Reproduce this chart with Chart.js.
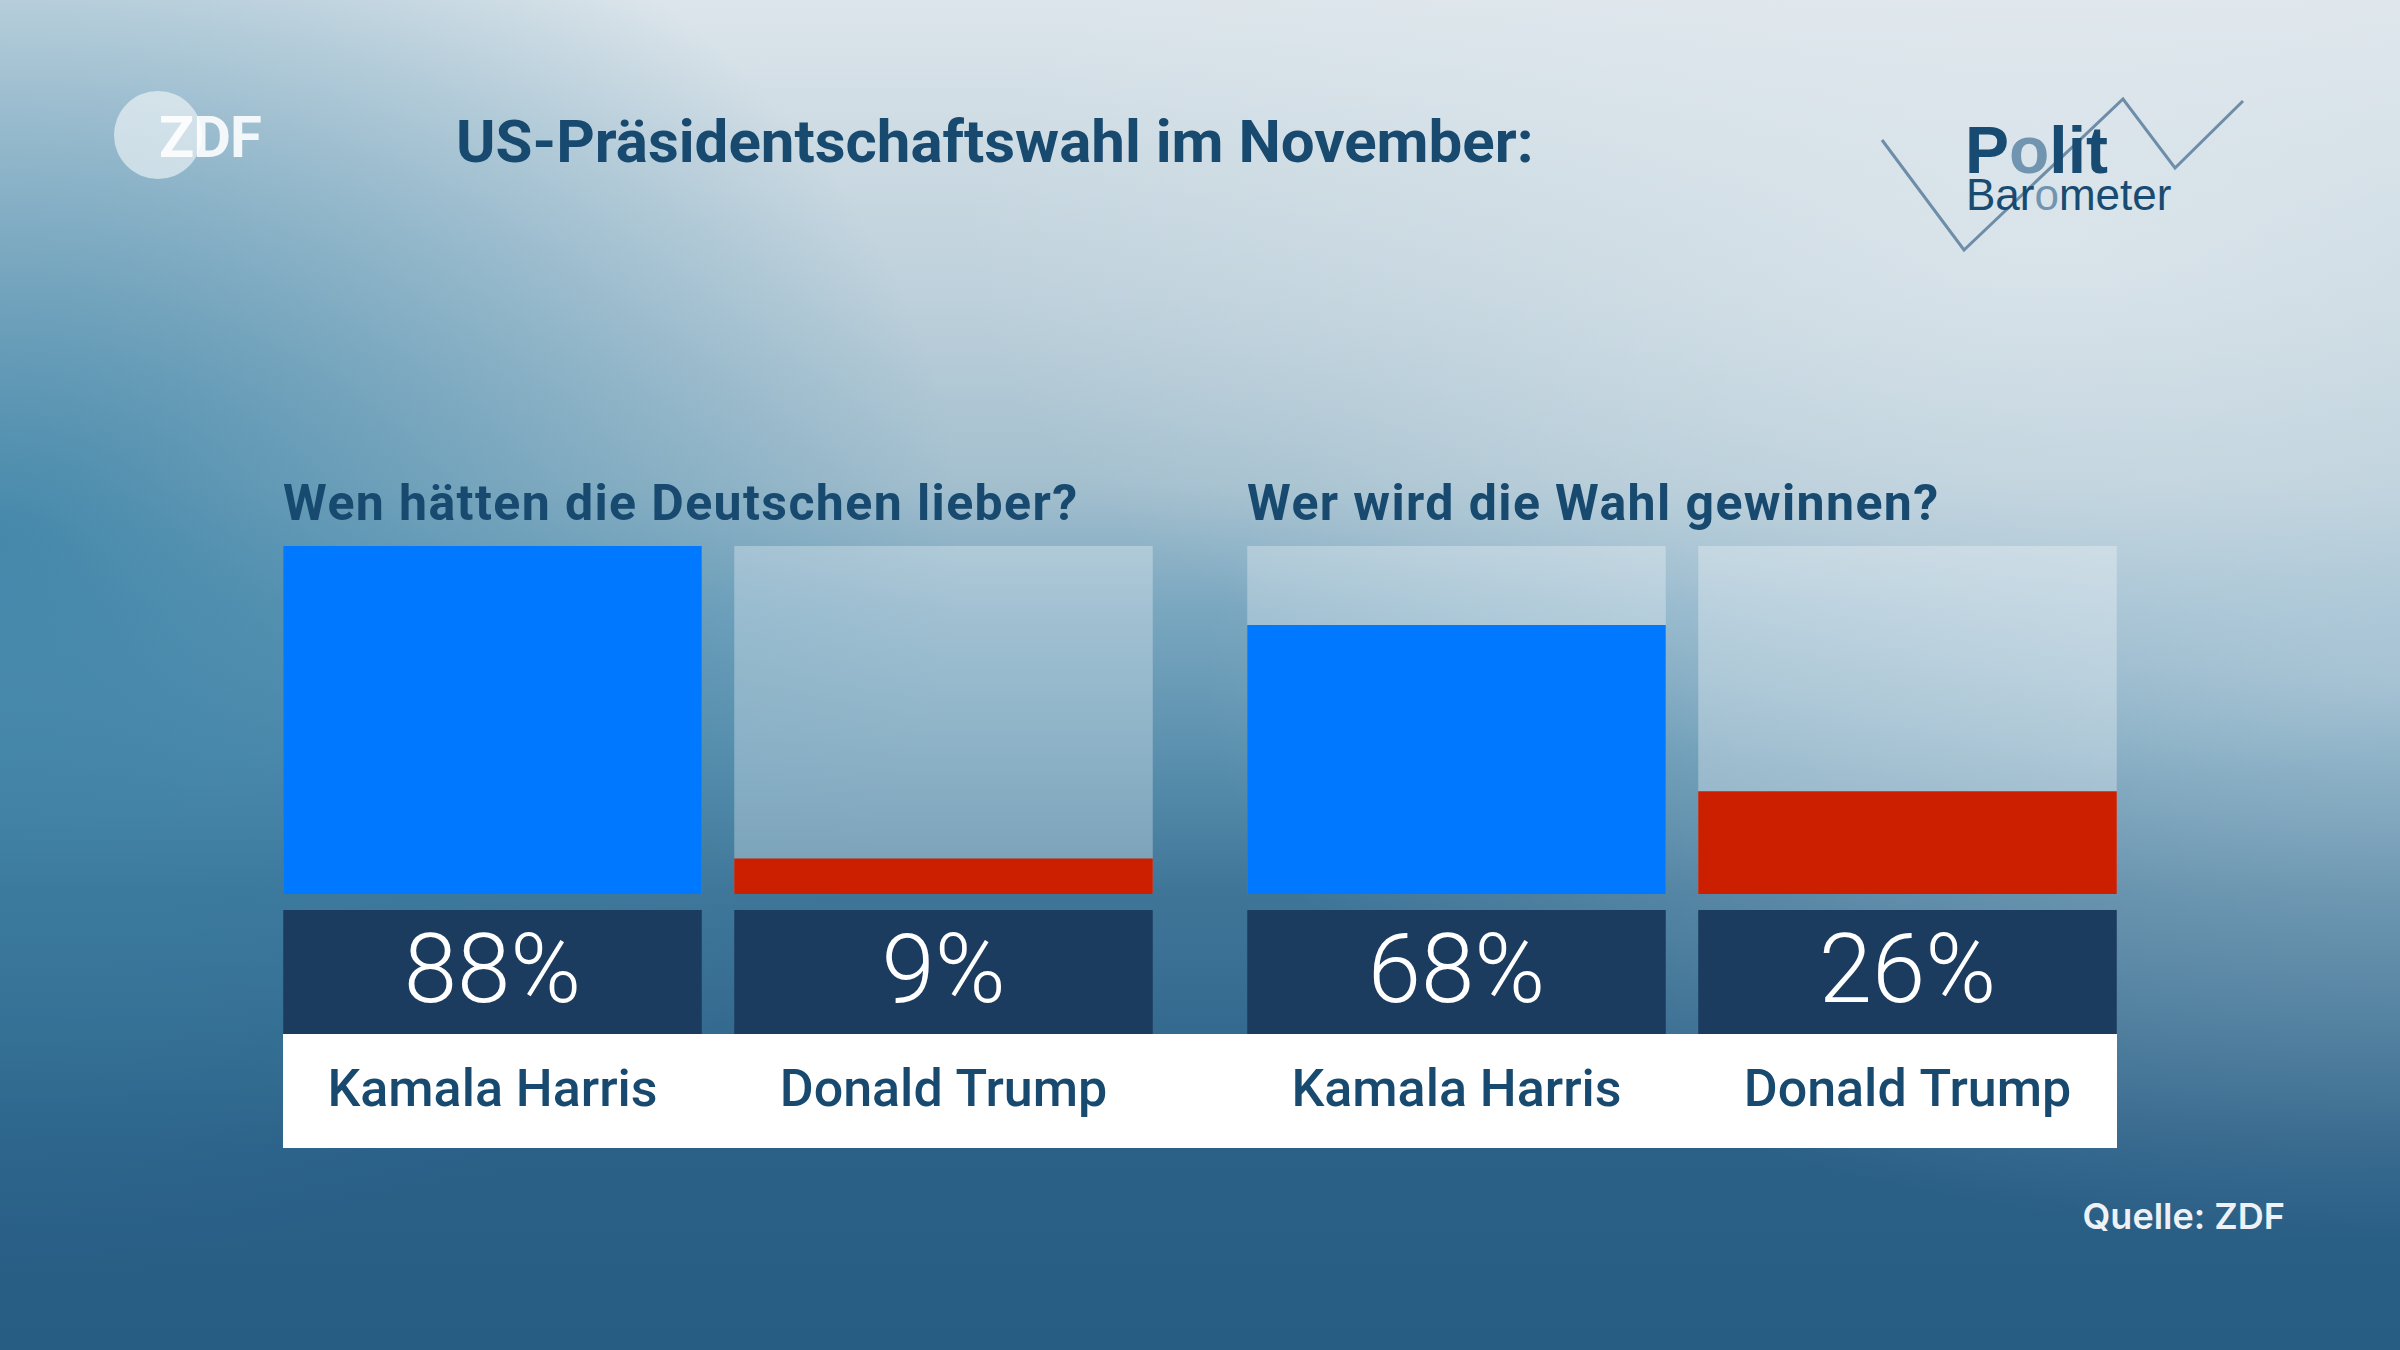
<!DOCTYPE html>
<html>
<head>
<meta charset="utf-8">
<script src="https://cdn.jsdelivr.net/npm/chart.js@4/dist/chart.umd.min.js"></script>
<style>
  html, body { margin: 0; padding: 0; }
  body {
    width: 2400px; height: 1350px; position: relative; overflow: hidden;
    background:
      radial-gradient(ellipse 45% 40% at 85% 18%, rgba(232,238,242,0.6) 0%, rgba(232,238,242,0) 100%),
      radial-gradient(ellipse 40% 55% at 0% 40%, rgba(55,128,165,0.85) 0%, rgba(55,128,165,0.5) 40%, rgba(55,128,165,0) 100%),
      radial-gradient(ellipse 50% 42% at 100% 50%, rgba(215,227,235,0.5) 0%, rgba(215,227,235,0) 100%),
      linear-gradient(to bottom, #dce5eb 0%, #bdd0db 22%, #a3bfce 36%, #7aa7c0 45%, #5a90ae 56%, #3f7698 66%, #2b6087 85%, #275c83 100%);
    font-family: Roboto, "Liberation Sans", sans-serif;
  }
  .txt { position: absolute; line-height: 1; white-space: nowrap; }
  #title { left: 456px; top: 112px; font-size: 60px; font-weight: 700; color: #184a70; }
  .question { top: 478px; font-size: 50px; font-weight: 700; color: #184a70; letter-spacing: 1.4px; }
  #q1 { left: 283px; }
  #q2 { left: 1247px; }
  #source { right: 115px; top: 1198px; font-family: Inter, "Open Sans", sans-serif; font-size: 36px; font-weight: 600; color: #eef2f7; }
  #zdfCircle { position: absolute; left: 114px; top: 91px; width: 88px; height: 88px; border-radius: 50%; background: rgba(255,255,255,0.55); }
  #zdfText { left: 159px; top: 108px; font-size: 58px; font-weight: 700; color: rgba(255,255,255,0.88); letter-spacing: -1px; }
  #zigzag { position: absolute; left: 0; top: 0; }
  #polit { left: 1965px; top: 117px; font-family: "Liberation Sans", Arial, sans-serif; font-size: 66px; font-weight: 700; color: #174b72; }
  #barometer { left: 1966px; top: 173px; font-family: "Liberation Sans", Arial, sans-serif; font-size: 44px; color: #174b72; }
  .light { color: #7194b0; }
  #whiteStrip { position: absolute; left: 283px; top: 1034px; width: 1834px; height: 114px; background: #ffffff; }
  canvas { position: absolute; }
  #chart1 { left: 267px; top: 546px; }
  #chart2 { left: 1231px; top: 546px; }
</style>
</head>
<body>
<div id="zdfCircle"></div>
<div class="txt" id="zdfText">ZDF</div>
<svg id="zigzag" width="2400" height="300">
  <polyline points="1882,140 1964,250 2123,99 2175,168 2243,101" fill="none" stroke="#6d8da8" stroke-width="3"/>
</svg>
<div class="txt" id="polit">P<span class="light">o</span>lit</div>
<div class="txt" id="barometer">Bar<span class="light">o</span>meter</div>
<div class="txt" id="title">US-Präsidentschaftswahl im November:</div>
<div class="txt question" id="q1"></div>
<div class="txt question" id="q2"></div>
<div id="whiteStrip"></div>
<canvas id="chart1" width="902" height="604"></canvas>
<canvas id="chart2" width="902" height="604"></canvas>
<div class="txt" id="source">Quelle: ZDF</div>

<script>
// Daten
const candidates = ['Kamala Harris', 'Donald Trump'];
const questions = ['Wen hätten die Deutschen lieber?', 'Wer wird die Wahl gewinnen?'];
const preferred = [88, 9];        // Wen hätten die Deutschen lieber?
const expectedWinner = [68, 26];  // Wer wird die Wahl gewinnen?
const candidateColors = ['#0078ff', '#cc1f00'];
const scaleMax = 88;

document.getElementById('q1').innerText = questions[0];
document.getElementById('q2').innerText = questions[1];

// Kästen mit Prozentwert + Namen unter den Balken
const labelBoxes = {
    id: 'labelBoxes',
    afterDatasetsDraw(chart) {
        const ctx = chart.ctx;
        const area = chart.chartArea;
        const meta = chart.getDatasetMeta(0);
        const values = chart.data.datasets[0].data;
        ctx.save();
        meta.data.forEach((bar, i) => {
            const left = bar.x - bar.width / 2;
            ctx.fillStyle = '#1c3c5f';
            ctx.fillRect(left, area.bottom + 16, bar.width, 124);
            ctx.fillStyle = '#ffffff';
            ctx.font = '300 96px Roboto';
            ctx.textAlign = 'center';
            ctx.textBaseline = 'middle';
            ctx.fillText(values[i] + '%', bar.x, area.bottom + 84);
            ctx.fillStyle = '#184a70';
            ctx.font = '500 52px Roboto';
            ctx.fillText(chart.data.labels[i], bar.x, area.bottom + 199);
        });
        ctx.restore();
    }
};

function makeChart(id, values) {
    return new Chart(document.getElementById(id), {
        type: 'bar',
        data: {
            labels: candidates,
            datasets: [
                {
                    data: values,
                    backgroundColor: candidateColors,
                    grouped: false,
                    categoryPercentage: 1,
                    barPercentage: 0.928
                },
                {
                    // heller Hintergrundkasten (volle Höhe)
                    data: candidates.map(() => scaleMax),
                    backgroundColor: 'rgba(255, 255, 255, 0.3)',
                    grouped: false,
                    categoryPercentage: 1,
                    barPercentage: 0.928
                }
            ]
        },
        options: {
            responsive: false,
            devicePixelRatio: 1,
            animation: false,
            layout: { padding: { top: 0, bottom: 256, left: 0, right: 0 } },
            scales: {
                x: { display: false },
                y: { display: false, min: 0, max: scaleMax }
            },
            plugins: {
                legend: { display: false },
                tooltip: { enabled: false }
            }
        },
        plugins: [labelBoxes]
    });
}

makeChart('chart1', preferred);
makeChart('chart2', expectedWinner);
</script>
</body>
</html>
